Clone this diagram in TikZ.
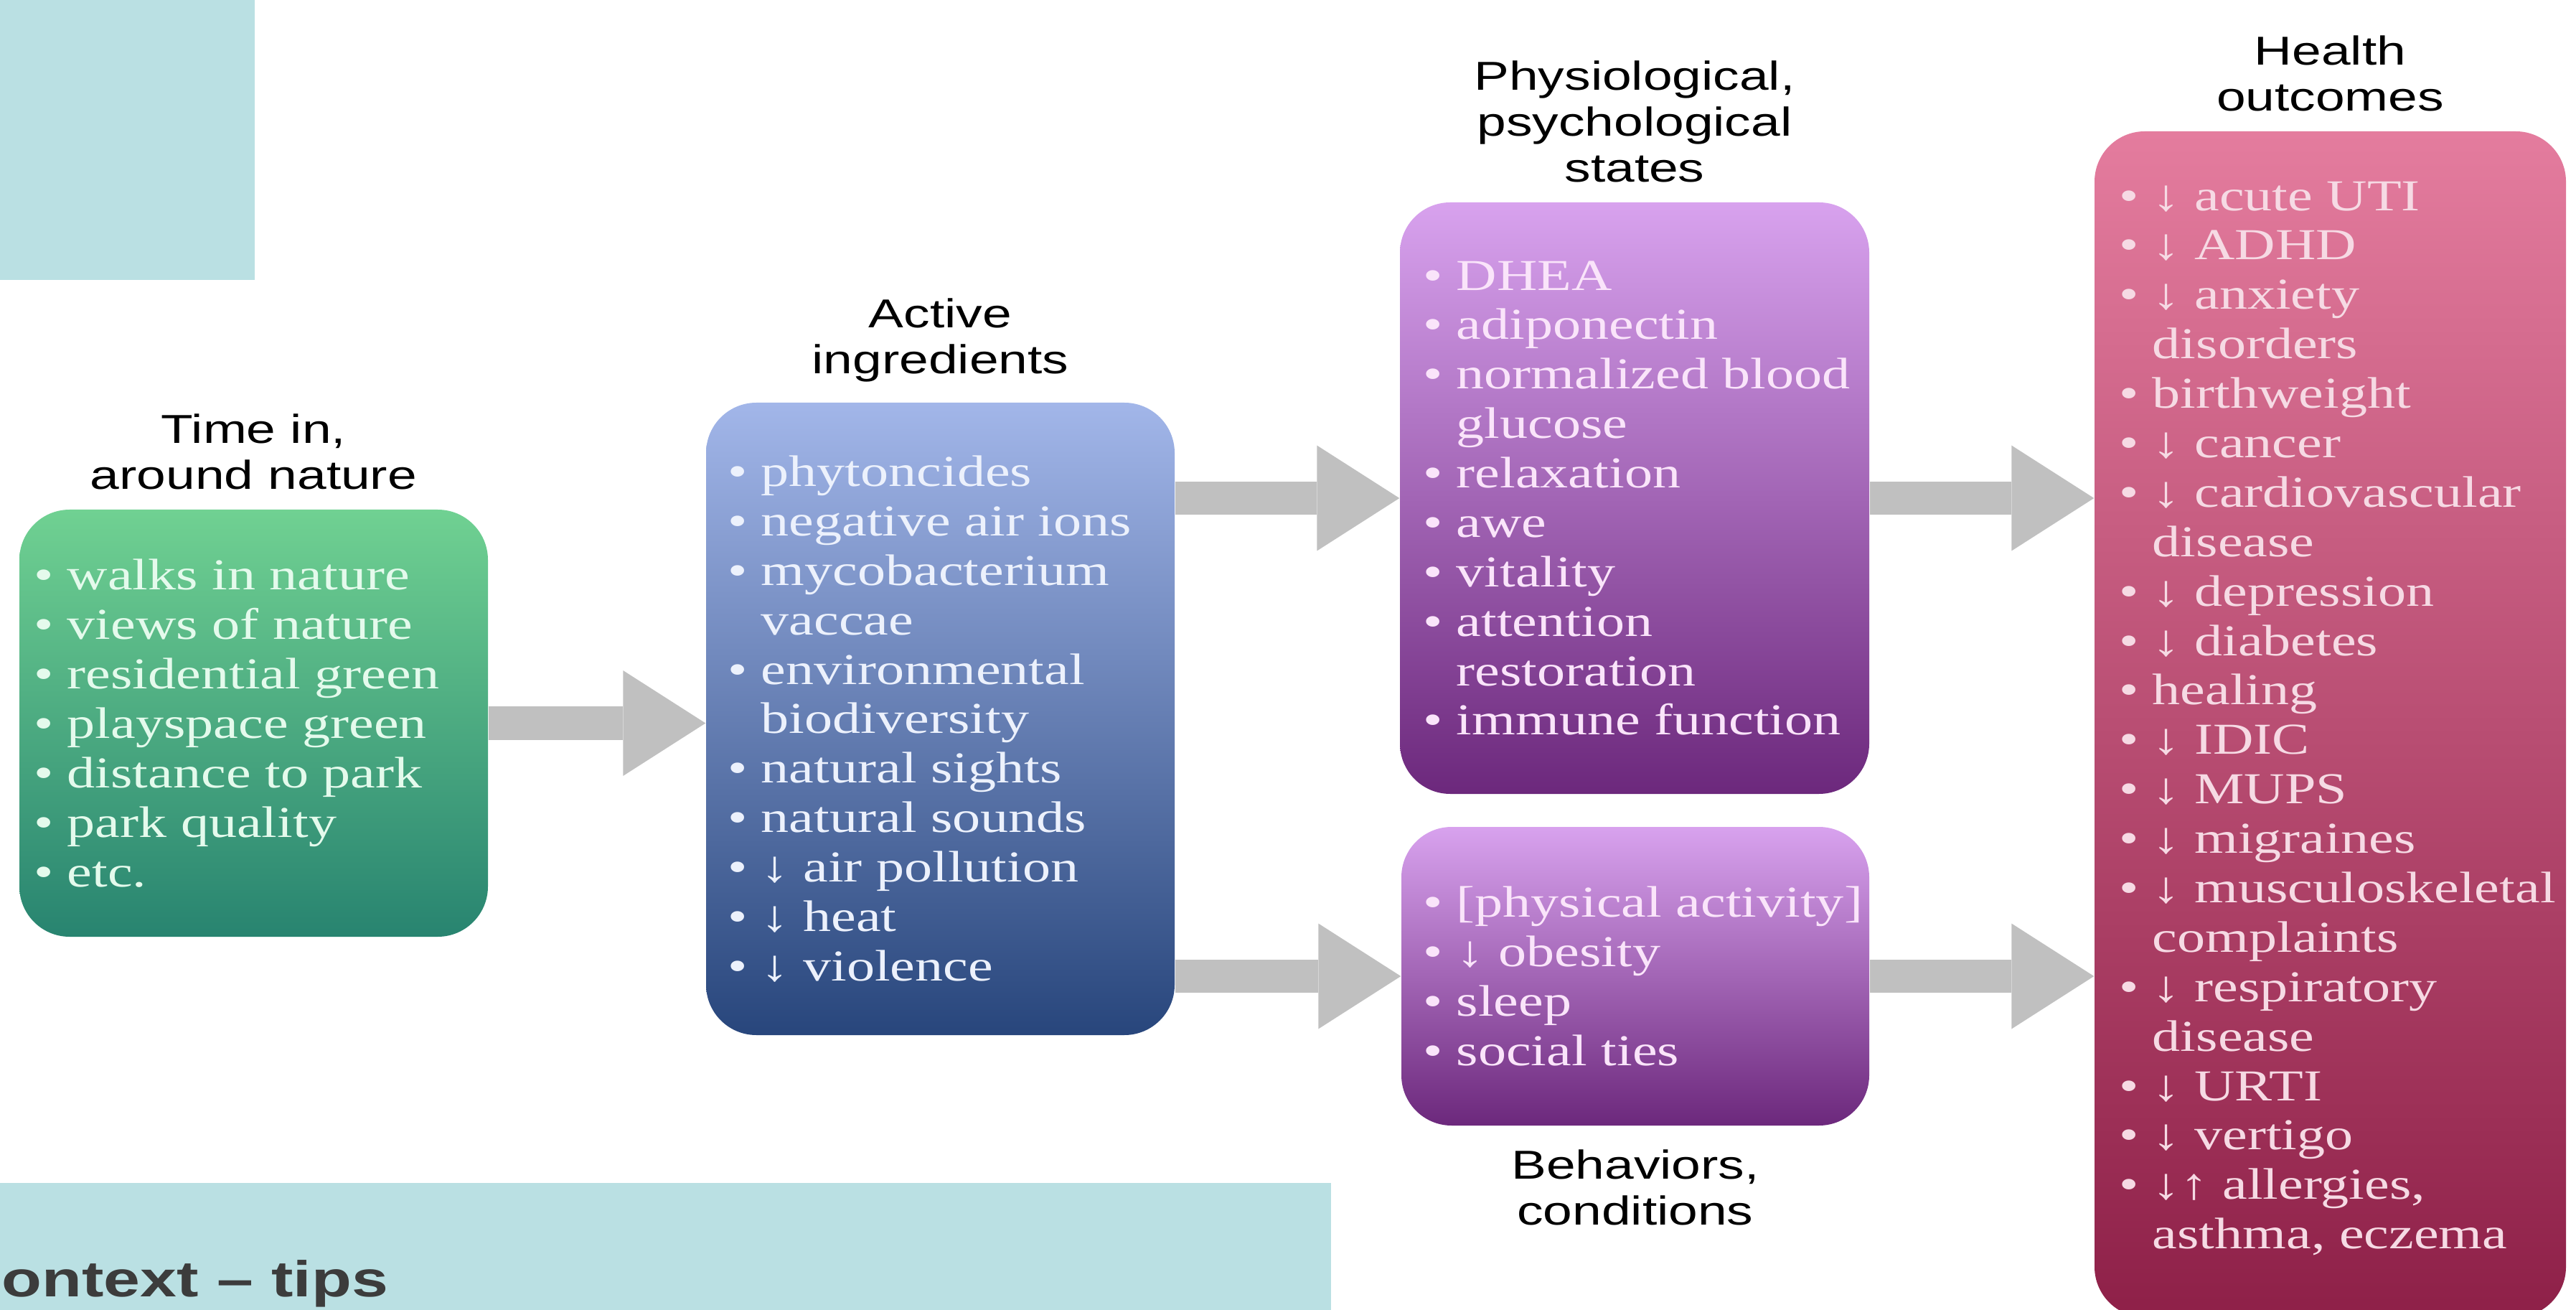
\documentclass[tikz,border=0pt]{standalone}
\usepackage{fontspec}
\setmainfont{Liberation Serif}
\newfontfamily\itemfont[FakeStretch=1.27]{Liberation Serif}
\newfontfamily\headfont[FakeStretch=1.3]{Liberation Sans}
\usetikzlibrary{positioning,arrows.meta}

\definecolor{tealbg}{RGB}{186,224,227}
\definecolor{flowgray}{RGB}{192,192,192}
\definecolor{tipsgray}{RGB}{60,60,60}
\definecolor{greentop}{RGB}{112,209,146}
\definecolor{greenbot}{RGB}{40,132,112}
\definecolor{greentxt}{RGB}{228,250,236}
\definecolor{bluetop}{RGB}{162,182,233}
\definecolor{bluebot}{RGB}{40,70,124}
\definecolor{bluetxt}{RGB}{236,241,252}
\definecolor{purptop}{RGB}{216,162,238}
\definecolor{purpbot}{RGB}{108,40,124}
\definecolor{purptxt}{RGB}{250,228,250}
\definecolor{pinktop}{RGB}{228,124,158}
\definecolor{pinkbot}{RGB}{142,32,72}
\definecolor{pinktxt}{RGB}{246,218,228}

\newcommand{\itm}{•\ }
\newcommand{\cnt}{\phantom{•\ }}

\begin{document}
\begin{tikzpicture}[
    stagebox/.style={rounded corners=0.7cm, inner sep=0pt},
    stagetext/.style={anchor=west, align=left, inner sep=0pt,
      font=\itemfont\fontsize{17.5}{19.6}\selectfont},
    stagehead/.style={align=center, inner sep=2pt,
      font=\headfont\fontsize{16}{18.2}\selectfont},
    flow/.style={flowgray, line width=0.46cm,
      -{Triangle[length=1.15cm,width=1.47cm,line width=0pt]}}
  ]
  \useasboundingbox (0,-18.25) rectangle (35.9,0);
  \fill[tealbg] (0,0) rectangle (3.55,-3.9);
  \fill[tealbg] (0,-16.48) rectangle (18.55,-18.25);
  \node[anchor=base west, inner sep=0pt, text=tipsgray,
    font=\headfont\bfseries\fontsize{20}{24}\selectfont] (tips) at (0.02,-18.06) {ontext – tips};

  \node[stagebox, top color=greentop, bottom color=greenbot,
    minimum width=6.53cm, minimum height=5.95cm] (nature) at (3.535,-10.075) {};
  \node[stagebox, top color=bluetop, bottom color=bluebot,
    minimum width=6.53cm, minimum height=8.81cm] (ingr) at (13.105,-10.015) {};
  \node[stagebox, top color=purptop, bottom color=purpbot,
    minimum width=6.54cm, minimum height=8.24cm] (states) at (22.78,-6.94) {};
  \node[stagebox, top color=purptop, bottom color=purpbot,
    minimum width=6.52cm, minimum height=4.16cm] (behav) at (22.79,-13.6) {};
  \node[stagebox, top color=pinktop, bottom color=pinkbot,
    minimum width=6.57cm, minimum height=16.52cm] (health) at (32.475,-10.09) {};

  \node[stagehead, above=0.2cm of nature] (nature-head) {Time in,\\around nature};
  \node[stagehead, above=0.2cm of ingr] (ingr-head) {Active\\ingredients};
  \node[stagehead, above=0.2cm of states] (states-head) {Physiological,\\psychological\\states};
  \node[stagehead, below=0.25cm of behav] (behav-head) {Behaviors,\\conditions};
  \node[stagehead, above=0.2cm of health] (health-head) {Health\\outcomes};

  \node[stagetext, text=greentxt] (nature-txt) at ([xshift=0.2cm]nature.west)
    {\itm walks in nature\\\itm views of nature\\\itm residential green\\
     \itm playspace green\\\itm distance to park\\\itm park quality\\\itm etc.};
  \node[stagetext, text=bluetxt] (ingr-txt) at ([xshift=0.3cm]ingr.west)
    {\itm phytoncides\\\itm negative air ions\\\itm mycobacterium\\\cnt vaccae\\
     \itm environmental\\\cnt biodiversity\\\itm natural sights\\\itm natural sounds\\
     \itm ↓ air pollution\\\itm ↓ heat\\\itm ↓ violence};
  \node[stagetext, text=purptxt] (states-txt) at ([xshift=0.32cm]states.west)
    {\itm DHEA\\\itm adiponectin\\\itm normalized blood\\\cnt glucose\\
     \itm relaxation\\\itm awe\\\itm vitality\\\itm attention\\\cnt restoration\\
     \itm immune function};
  \node[stagetext, text=purptxt] (behav-txt) at ([xshift=0.3cm]behav.west)
    {\itm [physical activity]\\\itm ↓ obesity\\\itm sleep\\\itm social ties};
  \node[stagetext, text=pinktxt] (health-txt) at ([xshift=0.34cm,yshift=0.08cm]health.west)
    {\itm ↓ acute UTI\\\itm ↓ ADHD\\\itm ↓ anxiety\\\cnt disorders\\\itm birthweight\\
     \itm ↓ cancer\\\itm ↓ cardiovascular\\\cnt disease\\\itm ↓ depression\\
     \itm ↓ diabetes\\\itm healing\\\itm ↓ IDIC\\\itm ↓ MUPS\\\itm ↓ migraines\\
     \itm ↓ musculoskeletal\\\cnt complaints\\\itm ↓ respiratory\\\cnt disease\\
     \itm ↓ URTI\\\itm ↓ vertigo\\\itm ↓↑ allergies,\\\cnt asthma, eczema};

  \foreach \src/\dst in {nature/ingr, states/health, behav/health}
    \draw[flow] (\src.east) -- (\dst.west |- \src.east);
  \foreach \src/\dst in {ingr/states, ingr/behav}
    \draw[flow] (\src.east |- \dst.west) -- (\dst.west);
\end{tikzpicture}
\end{document}
